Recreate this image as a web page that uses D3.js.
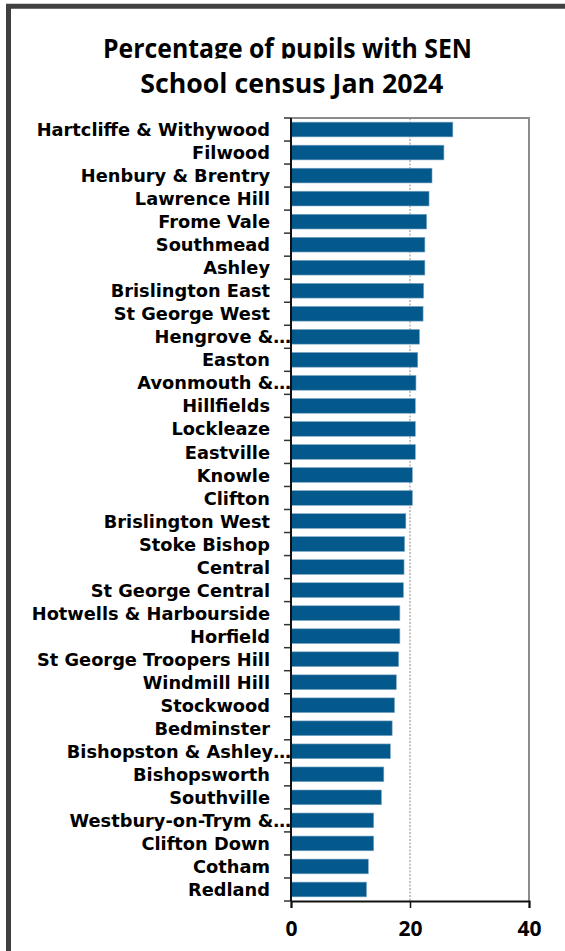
<!DOCTYPE html>
<html>
<head>
<meta charset="utf-8">
<script src="https://cdn.jsdelivr.net/npm/d3@7"></script>
<style>
  html, body { margin: 0; padding: 0; background: #fff; }
  svg { display: block; }
  text { font-family: "Open Sans", "DejaVu Sans", sans-serif; font-weight: 700; fill: #000; }
  .ward-label { font-family: "DejaVu Sans", sans-serif; }
</style>
</head>
<body>
<svg id="chart" width="565" height="951"></svg>
<script>
// Wards, ordered from highest to lowest share of pupils with SEN
const wards = [
  "Hartcliffe & Withywood", "Filwood", "Henbury & Brentry", "Lawrence Hill",
  "Frome Vale", "Southmead", "Ashley", "Brislington East", "St George West",
  "Hengrove &…", "Easton", "Avonmouth &…", "Hillfields", "Lockleaze",
  "Eastville", "Knowle", "Clifton", "Brislington West", "Stoke Bishop",
  "Central", "St George Central", "Hotwells & Harbourside", "Horfield",
  "St George Troopers Hill", "Windmill Hill", "Stockwood", "Bedminster",
  "Bishopston & Ashley…", "Bishopsworth", "Southville", "Westbury-on-Trym &…",
  "Clifton Down", "Cotham", "Redland"
];

// Percentage of pupils with SEN, January 2024 census
const senPct = [
  27.2, 25.7, 23.7, 23.2,
  22.8, 22.5, 22.5, 22.3, 22.2,
  21.6, 21.3, 21.0, 20.9, 20.9,
  20.9, 20.4, 20.4, 19.3, 19.1,
  19.0, 18.9, 18.3, 18.3,
  18.1, 17.7, 17.4, 17.0,
  16.7, 15.6, 15.2, 13.9,
  13.9, 13.0, 12.7
];

const xTicks = [0, 20, 40];
const titleLines = ["Percentage of pupils with SEN", "School census Jan 2024"];

const svg = d3.select("#chart");

const plot = { left: 291, right: 529, top: 118, bottom: 901 };

const x = d3.scaleLinear().domain([0, 40]).range([plot.left, plot.right]);
const y = d3.scaleBand().domain(wards).range([plot.top, plot.bottom])
  .paddingInner(0.36).paddingOuter(0.18);

// Outer frame (top and left edges)
svg.append("path")
  .attr("d", `M8.5,951 V6.2 H565`)
  .attr("fill", "none")
  .attr("stroke", "#404040")
  .attr("stroke-width", 5);

// Title: two centred lines; the first is cut off just below its baseline
svg.append("clipPath").attr("id", "titleClip")
  .append("rect").attr("x", 0).attr("y", 0).attr("width", 565).attr("height", 58.6);

svg.append("text")
  .attr("x", 287.5).attr("y", 58.3)
  .attr("text-anchor", "middle")
  .attr("font-size", 26.5)
  .attr("textLength", 369)
  .attr("lengthAdjust", "spacingAndGlyphs")
  .attr("clip-path", "url(#titleClip)")
  .text(titleLines[0]);

svg.append("text")
  .attr("x", 291.7).attr("y", 93.3)
  .attr("text-anchor", "middle")
  .attr("font-size", 26.5)
  .attr("textLength", 303)
  .attr("lengthAdjust", "spacingAndGlyphs")
  .text(titleLines[1]);

// Plot frame: grey top and right edges
svg.append("path")
  .attr("d", `M${plot.left},${plot.top} H${plot.right} V${plot.bottom}`)
  .attr("fill", "none")
  .attr("stroke", "#8c8c8c")
  .attr("stroke-width", 2);

// Vertical gridlines
svg.append("g")
  .selectAll("line")
  .data(xTicks.filter(d => d > 0 && d < 40))
  .join("line")
  .attr("x1", d => x(d)).attr("x2", d => x(d))
  .attr("y1", plot.top).attr("y2", plot.bottom)
  .attr("stroke", "#8a8a8a")
  .attr("stroke-width", 1)
  .attr("stroke-dasharray", "2,1.5");

// Bars
svg.append("g")
  .selectAll("rect")
  .data(wards.map((w, i) => ({ ward: w, value: senPct[i] })))
  .join("rect")
  .attr("x", x(0))
  .attr("y", d => y(d.ward))
  .attr("width", d => x(d.value) - x(0))
  .attr("height", y.bandwidth())
  .attr("fill", "#04598c")
  .attr("stroke", "#7fa8c6")
  .attr("stroke-width", 0.6);

// Category axis: tick marks at band boundaries
const step = y.step();
const boundaries = d3.range(wards.length + 1).map(i => plot.top + i * step);
svg.append("g")
  .selectAll("line")
  .data(boundaries)
  .join("line")
  .attr("x1", plot.left - 7).attr("x2", plot.left)
  .attr("y1", d => d).attr("y2", d => d)
  .attr("stroke", "#333")
  .attr("stroke-width", 1.5);

svg.append("line")
  .attr("x1", plot.left).attr("x2", plot.left)
  .attr("y1", plot.top).attr("y2", plot.bottom)
  .attr("stroke", "#111")
  .attr("stroke-width", 2);

// Category labels
svg.append("g")
  .selectAll("text")
  .data(wards)
  .join("text")
  .attr("class", "ward-label")
  .attr("x", d => d.endsWith("…") ? 291 : 270)
  .attr("y", d => y(d) + y.bandwidth() / 2)
  .attr("dy", "0.37em")
  .attr("text-anchor", "end")
  .attr("font-size", 17.8)
  .text(d => d);

// Value axis
const xAxis = d3.axisBottom(x).tickValues(xTicks).tickSize(7).tickPadding(13).tickFormat(d3.format("d"));
const gx = svg.append("g")
  .attr("transform", `translate(0,${plot.bottom})`)
  .call(xAxis);
gx.select(".domain").attr("stroke", "#111").attr("stroke-width", 2);
gx.selectAll(".tick line").attr("stroke", "#111").attr("stroke-width", 1.5);
gx.selectAll(".tick text")
  .attr("font-size", 21)
  .attr("font-family", "'Open Sans', sans-serif")
  .attr("font-weight", 700)
  .attr("fill", "#000");
</script>
</body>
</html>
